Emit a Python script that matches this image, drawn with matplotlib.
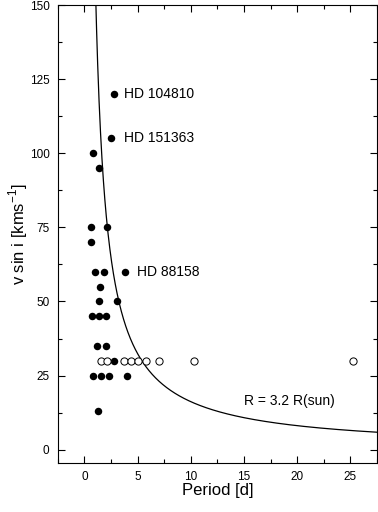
import numpy as np
import matplotlib
matplotlib.use("Agg")
import matplotlib.pyplot as plt
from matplotlib.ticker import MultipleLocator

plt.rcParams['font.family'] = ['Liberation Sans', 'DejaVu Sans']

# filled points: period [d], v sin i [km/s]
p_filled = [2.8, 2.5, 0.85, 1.4, 0.6, 2.1, 0.6, 0.95, 1.8, 3.85, 1.45, 1.4, 3.1,
            0.7, 1.4, 2.0, 1.2, 2.0, 2.8, 0.8, 1.6, 2.35, 4.0, 1.3]
v_filled = [120, 105, 100, 95, 75, 75, 70, 60, 60, 60, 55, 50, 50,
            45, 45, 45, 35, 35, 30, 25, 25, 25, 25, 13]

# open points (upper limits)
p_open = [1.6, 2.1, 3.75, 4.35, 5.0, 5.8, 7.0, 10.3, 25.3]
v_open = [30, 30, 30, 30, 30, 30, 30, 30, 30]

labels = ["HD 104810", "HD 151363", "HD 88158"]
label_p = [3.7, 3.7, 4.9]
label_v = [120, 105, 60]

R = 3.2  # stellar radius in R(sun)

fig = plt.figure(figsize=(3.78, 5.12), dpi=100)
ax = fig.add_axes([0.153, 0.0957, 0.844, 0.8945])

P = np.linspace(0.5, 27.5, 800)
v = 2 * np.pi * 696000 * R / (P * 86400)
ax.plot(P, v, color='black', lw=0.9)

ax.plot(p_filled, v_filled, 'o', color='black', ms=5.4, mew=0)
ax.plot(p_open, v_open, 'o', mfc='white', mec='black', ms=5.2, mew=0.7)

for t, x, y in zip(labels, label_p, label_v):
    ax.text(x, y, t, fontsize=10, va='center', ha='left')
ax.text(15.0, 16.5, "R = 3.2 R(sun)", fontsize=10, va='center', ha='left')

ax.set_xlim(-2.5, 27.5)
ax.set_ylim(-4.5, 150)
ax.xaxis.set_major_locator(MultipleLocator(5))
ax.xaxis.set_minor_locator(MultipleLocator(2.5))
ax.yaxis.set_major_locator(MultipleLocator(25))
ax.yaxis.set_minor_locator(MultipleLocator(12.5))
ax.tick_params(which='both', direction='in', top=True, right=True, labelsize=8.5, width=0.8)
ax.tick_params(which='major', length=5, pad=6)
ax.tick_params(which='minor', length=3)
for s in ax.spines.values():
    s.set_linewidth(0.8)

ax.set_xlabel("Period [d]", fontsize=12, labelpad=0)
ax.set_ylabel("v sin i [kms$^{\\mathregular{-1}}$]", fontsize=12, labelpad=0)

fig.savefig("out.png", dpi=100)
